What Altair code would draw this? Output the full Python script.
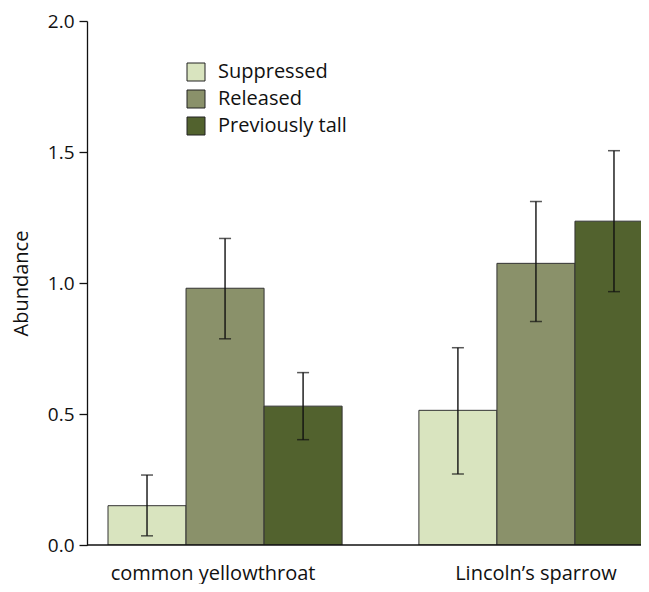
import altair as alt
import pandas as pd

species = ["common yellowthroat", "Lincoln’s sparrow"]
treatments = ["Suppressed", "Released", "Previously tall"]
colors = ["#d9e4bf", "#8a916a", "#52622e"]

mean_cy = [0.15, 0.98, 0.53]
low_cy = [0.035, 0.787, 0.402]
high_cy = [0.267, 1.17, 0.658]

mean_ls = [0.514, 1.075, 1.236]
low_ls = [0.271, 0.853, 0.967]
high_ls = [0.753, 1.311, 1.505]

rows = []
for sp, means, lows, highs in [
    (species[0], mean_cy, low_cy, high_cy),
    (species[1], mean_ls, low_ls, high_ls),
]:
    for t, m, lo, hi in zip(treatments, means, lows, highs):
        rows.append({"species": sp, "treatment": t, "mean": m, "low": lo, "high": hi})
df = pd.DataFrame(rows)

FONT = "Open Sans"
FS = 20
TICK_FS = 19

x_enc = alt.X(
    "species:N",
    sort=species,
    scale=alt.Scale(range=[21, 566], paddingInner=0.247, paddingOuter=0),
    axis=alt.Axis(
        title=None, labelAngle=0, ticks=False, domain=False, labelPadding=18,
        labelLimit=400, labelFontSize=FS, labelColor="#111", labelFont=FONT,
        labelOffset={
            "condition": {"test": "datum.value === 'common yellowthroat'", "value": -12},
            "value": 0,
        },
    ),
)
xo_enc = alt.XOffset(
    "treatment:N", sort=treatments, scale=alt.Scale(paddingInner=0, paddingOuter=0)
)
y_scale = alt.Scale(domain=[0, 2])

base = alt.Chart(df)

bars = base.mark_bar(stroke="#333333", strokeWidth=1, clip=True).encode(
    x=x_enc,
    xOffset=xo_enc,
    y=alt.Y(
        "mean:Q",
        scale=y_scale,
        axis=alt.Axis(
            title="Abundance", values=[0, 0.5, 1.0, 1.5, 2.0], format=".1f",
            grid=False, tickSize=8, labelPadding=5, titlePadding=16,
            labelFontSize=TICK_FS, titleFontSize=FS, titleFontWeight="normal",
            labelFont=FONT, titleFont=FONT, labelColor="#111", titleColor="#111",
        ),
    ),
    color=alt.Color(
        "treatment:N",
        sort=treatments,
        scale=alt.Scale(domain=treatments, range=colors),
        legend=alt.Legend(
            title=None, orient="none", legendX=99, legendY=41,
            symbolType="square", symbolSize=324, symbolStrokeColor="#222",
            symbolStrokeWidth=1, symbolOpacity=1, labelFontSize=FS, labelFont=FONT,
            labelColor="#111", labelOffset=12, rowPadding=5, padding=0,
        ),
    ),
)

rule = base.mark_rule(color="#111", strokeWidth=1.4, clip=True).encode(
    x=x_enc, xOffset=xo_enc, y=alt.Y("low:Q", scale=y_scale), y2="high:Q"
)
cap_lo = base.mark_tick(color="#111", thickness=1.5, size=12, clip=True).encode(
    x=x_enc, xOffset=xo_enc, y=alt.Y("low:Q", scale=y_scale)
)
cap_hi = base.mark_tick(color="#111", thickness=1.5, size=12, clip=True).encode(
    x=x_enc, xOffset=xo_enc, y=alt.Y("high:Q", scale=y_scale)
)
baseline = alt.Chart(pd.DataFrame({"y0": [0]})).mark_rule(
    color="#111", strokeWidth=1.3
).encode(y=alt.Y("y0:Q", scale=y_scale))

chart = (
    alt.layer(bars, rule, cap_lo, cap_hi, baseline)
    .properties(
        width=554, height=524,
        autosize=alt.AutoSizeParams(type="none"),
        padding={"left": 79, "top": 13, "right": 0, "bottom": 39},
    )
    .configure_view(stroke=None)
    .configure_axis(domainColor="#111", domainWidth=1.3, tickColor="#111", tickWidth=1.3)
)

chart.save("out.html", embed_options={"renderer": "svg", "actions": False})
